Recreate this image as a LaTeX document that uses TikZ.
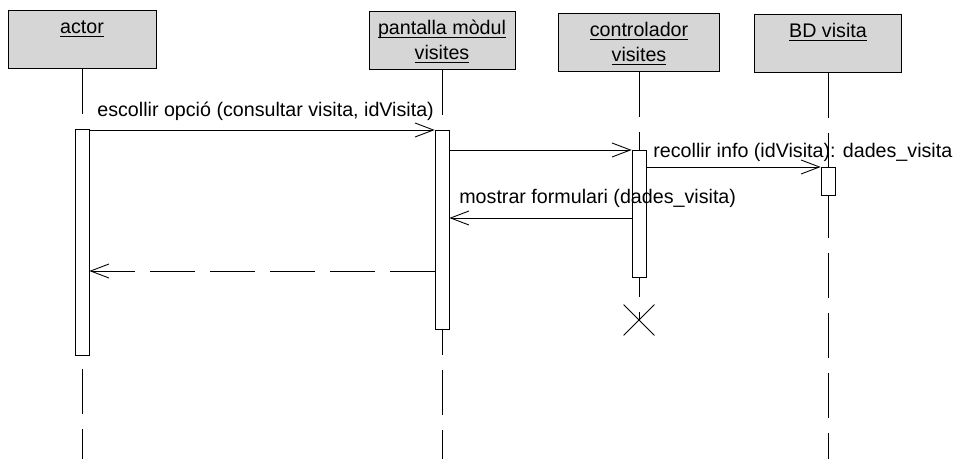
\documentclass[tikz,border=0pt]{standalone}
\usepackage{fontspec}
\setmainfont{Liberation Sans}
\usetikzlibrary{arrows.meta, shapes.misc}
\newcommand{\uln}[1]{\setbox0=\hbox{#1}\rlap{\rule[-2pt]{\wd0}{0.7pt}}\box0}

\begin{document}
\begin{tikzpicture}[x=0.02cm, y=-0.02cm,
    every node/.style={font=\fontsize{11.2}{14.2}\selectfont},
    objbox/.style={draw, fill=black!16, line width=0.5pt, anchor=north, align=center, minimum height=1.16cm, inner sep=0pt},
    actbox/.style={draw, fill=white, line width=0.4pt, minimum width=0.28cm, inner sep=0pt},
    lifeline/.style={line width=0.5pt, dash pattern=on 0.9cm off 0.3cm},
    msg/.style={-{Straight Barb[length=10.5pt, width=8pt]}, line width=0.5pt},
    reply/.style={msg, dash pattern=on 0.9cm off 0.3cm},
    msglbl/.style={anchor=base west, inner sep=0pt}
]
    \useasboundingbox (0,0) rectangle (957,459);

    % objects
    \node[objbox, minimum width=2.96cm] (actor) at (82,10) {\uln{actor}\strut\\\uln{}};
    \node[objbox, minimum width=2.92cm] (pant) at (442,11) {\uln{pantalla mòdul}\strut\\\uln{visites}};
    \node[objbox, minimum width=3.22cm] (ctrl) at (639,13) {\uln{controlador}\strut\\\uln{visites}};
    \node[objbox, minimum width=2.94cm] (bd) at (828,14) {\uln{BD visita}\strut\\\uln{}};

    % end of controlador
    \node[draw, cross out, minimum size=0.6cm, inner sep=0pt, line width=0.5pt] (xend) at (639,320) {};

    % lifelines
    \draw[lifeline] (actor.south) -- (actor.south |- 0,459);
    \draw[lifeline] (pant.south) -- (pant.south |- 0,459);
    \draw[lifeline] (ctrl.south) -- (xend.center);
    \draw[lifeline] (bd.south) -- (bd.south |- 0,459);

    % activations
    \node[actbox, minimum height=4.52cm] (actact) at (82,242) {};
    \node[actbox, minimum height=3.98cm] (pantact) at (442,229.5) {};
    \node[actbox, minimum height=2.54cm] (ctrlact) at (639,213.5) {};
    \node[actbox, minimum height=0.56cm] (bdact) at (828,181) {};

    % messages
    \draw[msg] (actact.east |- 0,130) -- (pantact.west |- 0,130);
    \draw[msg] (pantact.east |- 0,150) -- (ctrlact.west |- 0,150);
    \draw[msg] (ctrlact.east |- 0,167) -- (bdact.west |- 0,167);
    \draw[msg] (ctrlact.west |- 0,218) -- (pantact.east |- 0,218);
    \draw[reply] (pantact.west |- 0,271) -- (actact.east |- 0,271);

    \node[msglbl] (m1) at (97,117) {escollir opció (consultar visita, idVisita)};
    \node[msglbl] (m3) at (653,158) {recollir info (idVisita): dades\_visita};
    \node[msglbl] (m4) at (459,204) {mostrar formulari (dades\_visita)};
\end{tikzpicture}
\end{document}
